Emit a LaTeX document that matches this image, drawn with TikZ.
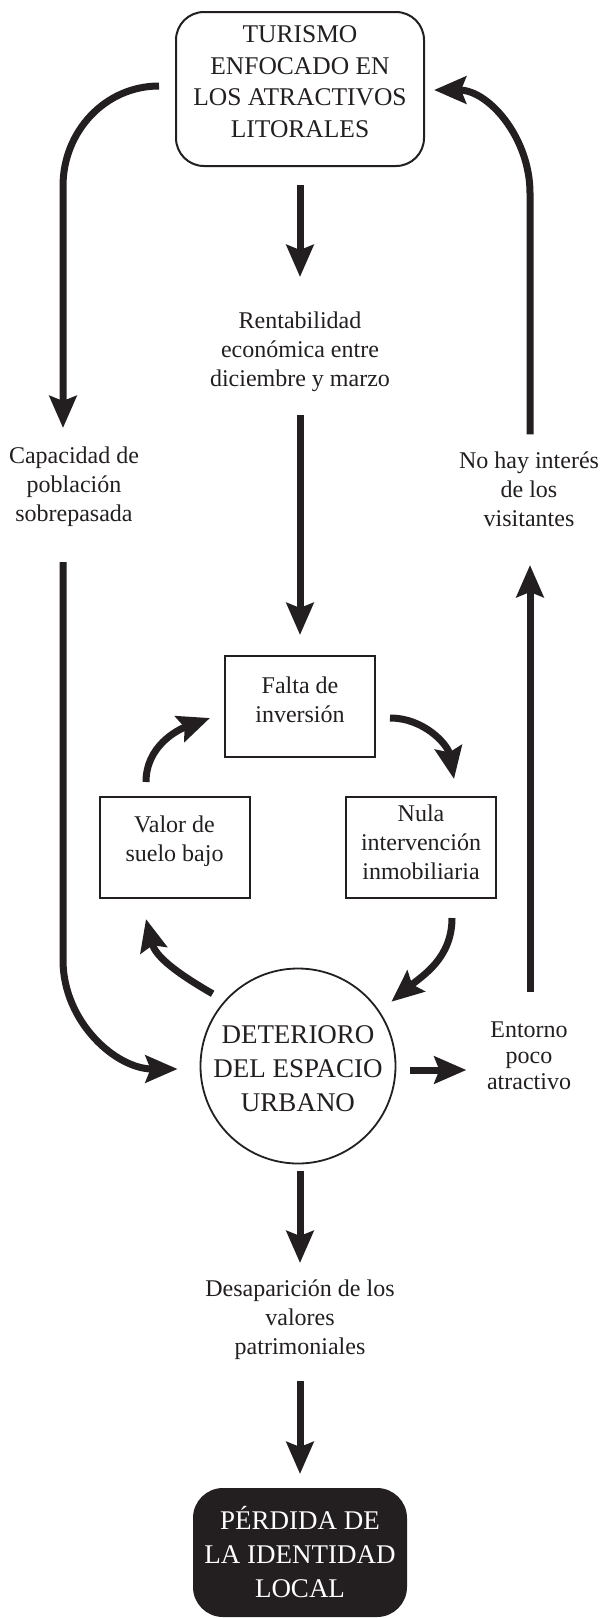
\documentclass[tikz,border=0pt]{standalone}
\usepackage{fontspec}
\setmainfont{Liberation Serif}
\usetikzlibrary{arrows.meta}
\definecolor{ink}{HTML}{231F20}
\newcommand{\lift}[1]{\rule[-#1]{0pt}{0pt}}
\begin{document}
\begin{tikzpicture}[x=1pt,y=1pt,
  arr/.style={draw=ink, line width=7pt, -{Stealth[length=32pt,width=27pt,inset=5pt]}},
  small/.style={font=\fontsize{24}{29}\selectfont, align=center, text=ink, inner sep=0pt},
  capstop/.style={font=\fontsize{25.5}{31.5}\selectfont, align=center, text=ink, inner sep=0pt},
  capsbig/.style={font=\fontsize{27}{34}\selectfont, align=center, text=ink, inner sep=0pt},
  sbox/.style={small, draw=ink, line width=2pt, minimum width=150pt, minimum height=101pt},
]
\useasboundingbox (0,0) rectangle (601,-1618);
\fill[white] (0,0) rectangle (601,-1618);

% nodes
\node[capstop, draw=ink, line width=2pt, rounded corners=28pt, minimum width=248pt, minimum height=154pt] (top) at (300,-89) {TURISMO\\ENFOCADO EN\\LOS ATRACTIVOS\\LITORALES\lift{15pt}};
\node[small] (rent) at (300,-352) {Rentabilidad\\económica entre\\diciembre y marzo};
\node[small] (cap) at (74,-487) {Capacidad de\\población\\sobrepasada};
\node[small] (nohay) at (529,-489) {No hay interés\\de los\\visitantes};
\node[sbox] (falta) at (300,-706.5) {Falta de\\inversión\lift{14pt}};
\node[sbox] (valor) at (174.5,-847.5) {Valor de\\suelo bajo\lift{17pt}};
\node[sbox] (nula) at (421,-847.5) {Nula\\intervención\\inmobiliaria\lift{11pt}};
\node[capsbig, draw=ink, line width=1.8pt, circle, minimum size=195pt] (circ) at (298,-1066) {\rule{0pt}{24pt}DETERIORO\\DEL ESPACIO\\URBANO};
\node[small, font=\fontsize{24}{26}\selectfont] (entorno) at (529,-1056) {Entorno\\poco\\atractivo};
\node[small] (desap) at (300,-1320) {Desaparición de los\\valores\\patrimoniales};
\node[capsbig, text=white, fill=ink, rounded corners=30pt, minimum width=214pt, minimum height=129pt] (black) at (300,-1552.5) {PÉRDIDA DE\\LA IDENTIDAD\\LOCAL};

% connectors
\draw[arr] (top.south |- 0,-185) -- (rent.north |- 0,-277);
\draw[arr] (rent.south |- 0,-415) -- (falta.north |- 0,-635);
\draw[arr] ([shift={(-16,3)}]top.west) to[out=180,in=90] (63,-186) -- (63,-428);
\draw[arr] (nohay.north -| 530,0) ++(0,17) -- (530,-193) to[out=90,in=0] ([shift={(9,-1)}]top.east);
\draw[arr] (63,-562) -- (63,-960) to[out=-90,in=180] ([shift={(-22,-3)}]circ.west);
\draw[arr] (entorno.north -| 530,0) ++(0,30) -- (530,-565);
\draw[arr] (circ.east) ++(14,-4) -- ++(56,0);
\draw[arr] (circ.south -| desap.north) ++(0,-7) -- (desap.north |- 0,-1263);
\draw[arr] (desap.south |- 0,-1381) -- (black.north |- 0,-1474);
\draw[arr] ([shift={(-28.5,14)}]valor.north) to[out=90,in=200] ([shift={(-14,-11.5)}]falta.west);
\draw[arr] ([shift={(14,-11.5)}]falta.east) to[out=0,in=100] ([shift={(33,17)}]nula.north);
\draw[arr] ([shift={(31,-19)}]nula.south) to[out=-90,in=40] ([shift={(18,1)}]circ.40);
\draw[arr] ([shift={(-10,9)}]circ.140) to[out=150,in=-76] ([shift={(-28.5,-20)}]valor.south);
\end{tikzpicture}
\end{document}
